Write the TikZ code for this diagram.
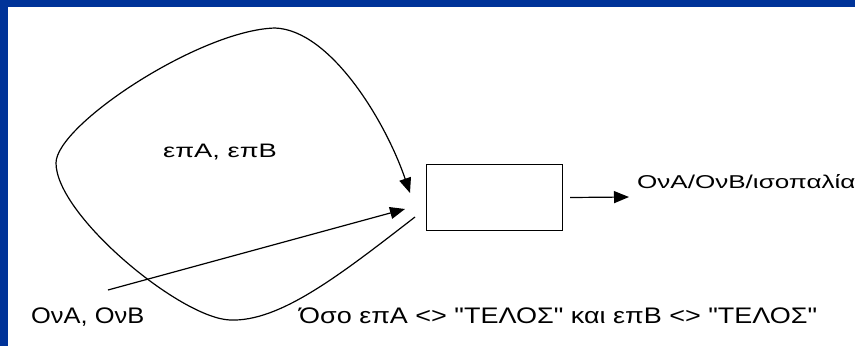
\documentclass[tikz,border=0pt]{standalone}
\usepackage{fontspec}
\usepackage{graphicx}
\setmainfont{Liberation Sans}[Ligatures=TeXOff]
\usetikzlibrary{arrows.meta}
\definecolor{frameblue}{RGB}{0,51,153}
\begin{document}
\begin{tikzpicture}[x=1bp,y=-1bp,
  conn/.style={line width=1.2bp, draw=black},
  arr/.style={conn, -{Triangle[length=15bp,width=12bp]}},
  lbl/.style={inner sep=0pt, anchor=base west, text=black},
  procbox/.style={draw, line width=1.4bp, minimum width=136bp, minimum height=66bp, inner sep=0pt}]
\useasboundingbox (0,0) rectangle (855,346);
\clip (0,0) rectangle (855,346);
\fill[white] (0,0) rectangle (855,346);
\fill[frameblue] (0,0) rectangle (855,7);
\fill[frameblue] (0,0) rectangle (8,346);
% box
\node[procbox] (proc) at (494.5,197.5) {};
% labels
\node[lbl] (ovab) at (31,323) {\fontsize{22.5bp}{26bp}\selectfont\scalebox{1.13}[1]{ΟνΑ, ΟνΒ}};
\node[lbl] (epab) at (163,157) {\fontsize{19.5bp}{22bp}\selectfont\scalebox{1.40}[1]{επΑ, επΒ}};
\node[lbl] (result) at (637,188) {\fontsize{18.6bp}{21bp}\selectfont\scalebox{1.40}[1]{ΟνΑ/ΟνΒ/ισοπαλία}};
\node[lbl] (cond) at (299,323) {\fontsize{22.5bp}{26bp}\selectfont\scalebox{1.20}[1]{Όσο επΑ <> "ΤΕΛΟΣ" και επΒ <> "ΤΕΛΟΣ"}};
% connector ends
\coordinate (loopstart) at (415,217);
\coordinate (loopbottom) at (230,320);
\coordinate (loopleft) at (56,163);
\coordinate (looptop) at (275,28);
\coordinate (looptip) at (410,193);
\coordinate (instart) at (108,290);
\coordinate (intip) at (405,209);
\coordinate (outtip) at (629,197);
% connectors
\draw[arr] ([xshift=7bp]proc.east) -- (outtip);
\draw[arr] (instart) -- (intip);
\draw[arr] (loopstart) .. controls (340,275) and (280,322) .. (loopbottom)
  .. controls (180,318) and (56,215) .. (loopleft)
  .. controls (56,125) and (200,30) .. (looptop)
  .. controls (330,30) and (385,120) .. (looptip);
\end{tikzpicture}
\end{document}
